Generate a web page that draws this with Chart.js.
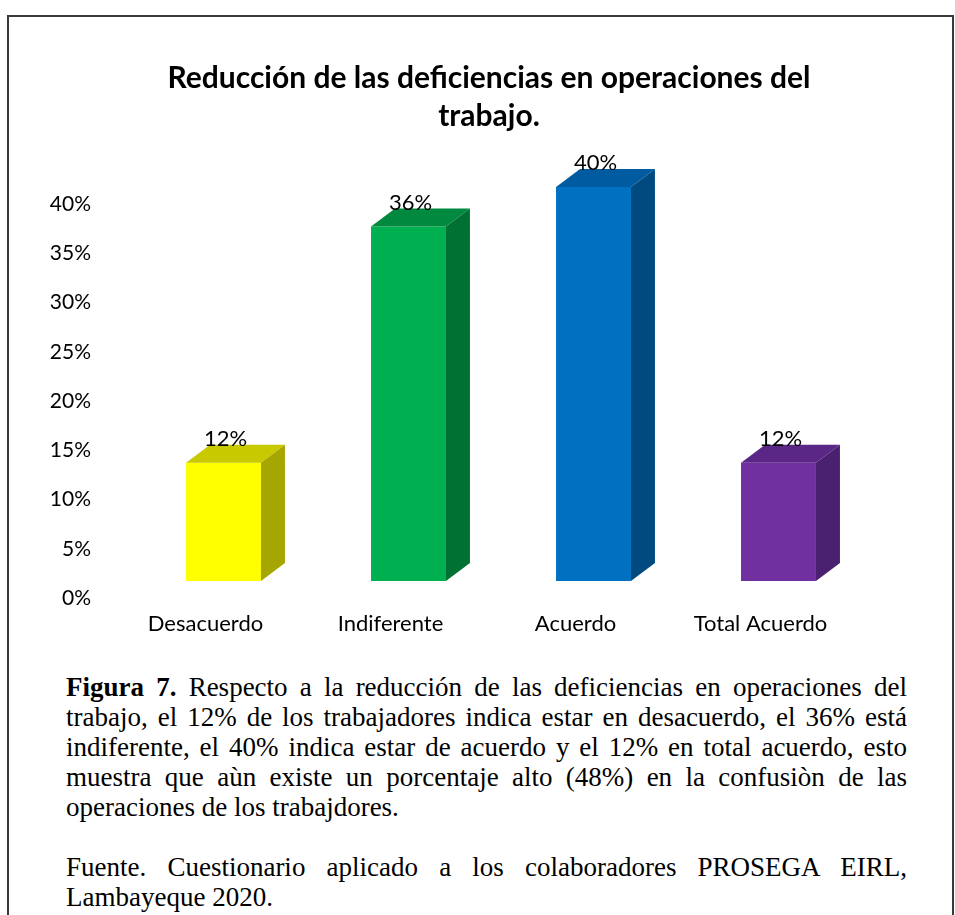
<!DOCTYPE html>
<html>
<head>
<meta charset="utf-8">
<script src="https://cdn.jsdelivr.net/npm/chart.js@4.4.0/dist/chart.umd.min.js"></script>
<style>
html, body { margin: 0; padding: 0; background: #fff; width: 955px; height: 915px; overflow: hidden; }
#frame { position: absolute; left: 7px; top: 15px; width: 947px; height: 1000px; border: 2px solid #3a3a3a; box-sizing: border-box; }
#c { position: absolute; left: 0; top: 0; }
#caption { position: absolute; left: 66px; top: 672px; width: 841px; font-family: 'Liberation Serif', 'Times New Roman', serif; font-size: 27px; line-height: 30px; text-align: justify; color: #000; }
#caption p { margin: 0; }
#caption p.src { margin-top: 30px; }
</style>
</head>
<body>
<div id="frame"></div>
<canvas id="c" width="955" height="660"></canvas>
<div id="caption">
  <p><b>Figura 7.</b> Respecto a la reducción de las deficiencias en operaciones del trabajo, el 12% de los trabajadores indica estar en desacuerdo, el 36% está indiferente, el 40% indica estar de acuerdo y el 12% en total acuerdo, esto muestra que aùn existe un porcentaje alto (48%) en la confusiòn de las operaciones de los trabajdores.</p>
  <p class="src">Fuente. Cuestionario aplicado a los colaboradores PROSEGA EIRL, Lambayeque 2020.</p>
</div>
<script>
var categories = ['Desacuerdo', 'Indiferente', 'Acuerdo', 'Total Acuerdo'];
var values = [12, 36, 40, 12];
var titleLines = ['Reducción de las deficiencias en operaciones del', 'trabajo.'];

// front / top / side colours of each bar
var frontColors = ['#ffff00', '#00b050', '#0070c0', '#7030a0'];
var topColors = ['#c9c900', '#00893f', '#005ba1', '#5b2786'];
var sideColors = ['#a6a600', '#007033', '#004a80', '#4a2070'];

var depthX = 24, depthY = 18;

var bar3d = {
    id: 'bar3d',
    afterDatasetsDraw: function(chart) {
        var ctx = chart.ctx;
        var meta = chart.getDatasetMeta(0);
        meta.data.forEach(function(bar, i) {
            var left = bar.x - bar.width / 2;
            var right = bar.x + bar.width / 2;
            var top = bar.y;
            var base = bar.base;
            ctx.save();
            // top face
            ctx.fillStyle = topColors[i];
            ctx.beginPath();
            ctx.moveTo(left, top);
            ctx.lineTo(left + depthX, top - depthY);
            ctx.lineTo(right + depthX, top - depthY);
            ctx.lineTo(right, top);
            ctx.closePath();
            ctx.fill();
            // side face
            ctx.fillStyle = sideColors[i];
            ctx.beginPath();
            ctx.moveTo(right, top);
            ctx.lineTo(right + depthX, top - depthY);
            ctx.lineTo(right + depthX, base - depthY);
            ctx.lineTo(right, base);
            ctx.closePath();
            ctx.fill();
            // value label
            ctx.fillStyle = '#000';
            ctx.font = '22px Lato';
            ctx.textAlign = 'center';
            ctx.textBaseline = 'middle';
            ctx.fillText(values[i] + '%', bar.x + 2, top - 24);
            ctx.restore();
        });
    }
};

new Chart(document.getElementById('c'), {
    type: 'bar',
    data: {
        labels: categories,
        datasets: [{
            data: values,
            backgroundColor: frontColors,
            borderWidth: 0,
            categoryPercentage: 1,
            barPercentage: 0.405
        }]
    },
    options: {
        responsive: false,
        animation: false,
        devicePixelRatio: 1,
        layout: { padding: { top: 15, left: 23, right: 0, bottom: 19 } },
        plugins: {
            legend: { display: false },
            tooltip: { enabled: false },
            title: {
                display: true,
                text: titleLines,
                color: '#000',
                font: { family: 'Lato', size: 30, weight: 'bold', lineHeight: 1.267 },
                padding: { top: 44, bottom: 52 }
            }
        },
        scales: {
            x: {
                grid: { display: false, drawTicks: false },
                border: { display: false },
                ticks: { color: '#000', font: { family: 'Lato', size: 22 }, padding: 30, labelOffset: -18 },
                afterFit: function(scale) { scale.height = 60; }
            },
            y: {
                min: 0,
                max: 40,
                grid: { display: false, drawTicks: false },
                border: { display: false },
                ticks: {
                    stepSize: 5,
                    color: '#000',
                    font: { family: 'Lato', size: 21 },
                    padding: 40,
                    labelOffset: 17,
                    callback: function(v) { return v + '%'; }
                },
                afterFit: function(scale) { scale.width = 108; }
            },
            // empty right axis, only keeps the space right of the bars
            yRight: {
                position: 'right',
                grid: { display: false, drawTicks: false },
                border: { display: false },
                ticks: { display: false },
                afterFit: function(scale) { scale.width = 84; }
            }
        }
    },
    plugins: [bar3d]
});
</script>
</body>
</html>
